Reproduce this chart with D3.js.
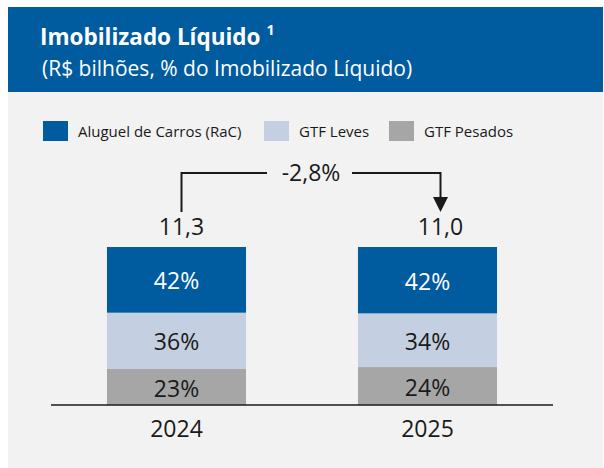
<!DOCTYPE html>
<html>
<head>
    <meta charset="utf-8">
    <title>imobilizado-liquido</title>
    <style>
        body { margin: 0; background: #fff; }
        text { font-family: "Open Sans", sans-serif; }
    </style>
</head>
<body>
    <script src="https://cdn.jsdelivr.net/npm/d3@7/dist/d3.min.js"></script>
    <script>
        // chart data
        var years = ["2024", "2025"];
        var totals = ["11,3", "11,0"];
        var series = ["Aluguel de Carros (RaC)", "GTF Leves", "GTF Pesados"];
        var rac = [42, 42];
        var gtfLeves = [36, 34];
        var gtfPesados = [23, 24];
        var changeLabel = "-2,8%";

        var colors = ["#005b9f", "#c4cfe1", "#a6a6a6"];

        var W = 604, H = 468;
        var svg = d3.select("body").append("svg")
            .attr("width", W)
            .attr("height", H);

        // panel + header
        svg.append("rect").attr("x", 8).attr("y", 7).attr("width", 595).attr("height", H - 7).attr("fill", "#f2f2f2");
        svg.append("rect").attr("x", 8).attr("y", 7).attr("width", 595).attr("height", 85).attr("fill", "#005b9f");

        var title = svg.append("text").attr("x", 40).attr("y", 45)
            .attr("fill", "#fff").attr("font-size", 22.5).attr("font-weight", "bold");
        title.append("tspan").text("Imobilizado Líquido ");
        title.append("tspan").attr("font-size", 14).attr("dy", -10).text("1");
        svg.append("text").attr("x", 42).attr("y", 76)
            .attr("fill", "#fff").attr("font-size", 21)
            .text("(R$ bilhões, % do Imobilizado Líquido)");

        // legend
        var legendX = [43, 264, 389];
        var leg = svg.selectAll(".leg").data(series).enter().append("g")
            .attr("class", "leg")
            .attr("transform", function (d, i) { return "translate(" + legendX[i] + ",121)"; });
        leg.append("rect").attr("width", 25).attr("height", 20)
            .attr("fill", function (d, i) { return colors[i]; });
        leg.append("text").attr("x", 35).attr("y", 16)
            .attr("font-size", 15).attr("fill", "#1a1a1a")
            .text(function (d) { return d; });

        // scales
        var baseY = 405, topY = 247;
        var x = d3.scaleBand().domain(years).range([51, 553]).paddingInner(0.446).paddingOuter(0.223);
        var y = d3.scaleLinear().domain([0, 1]).range([baseY, topY]);

        var rows = years.map(function (yr, i) {
            var vals = [rac[i], gtfLeves[i], gtfPesados[i]];
            var sum = d3.sum(vals);
            return { year: yr, a: vals[0] / sum, b: vals[1] / sum, c: vals[2] / sum, raw: vals };
        });
        var stack = d3.stack().keys(["c", "b", "a"])(rows);
        var keyIdx = { a: 0, b: 1, c: 2 };

        var layers = svg.selectAll(".layer").data(stack).enter().append("g")
            .attr("fill", function (s) { return colors[keyIdx[s.key]]; });
        layers.selectAll("rect").data(function (s) { return s; }).enter().append("rect")
            .attr("x", function (d) { return x(d.data.year); })
            .attr("width", x.bandwidth())
            .attr("y", function (d) { return y(d[1]); })
            .attr("height", function (d) { return y(d[0]) - y(d[1]); });

        layers.each(function (s) {
            var k = keyIdx[s.key];
            d3.select(this).selectAll("text").data(s).enter().append("text")
                .attr("x", function (d) { return x(d.data.year) + x.bandwidth() / 2; })
                .attr("y", function (d) { return (y(d[0]) + y(d[1])) / 2 + 9.5; })
                .attr("text-anchor", "middle")
                .attr("font-size", 23)
                .attr("fill", k === 0 ? "#fff" : "#1a1a1a")
                .text(function (d) { return d.data.raw[k] + "%"; });
        });

        // axis
        var xAxis = svg.append("g").attr("transform", "translate(0," + baseY + ")")
            .call(d3.axisBottom(x).tickSize(0).tickPadding(16));
        xAxis.select(".domain").attr("stroke", "#1a1a1a").attr("stroke-width", 1.5).attr("d", "M51,0H553");
        xAxis.selectAll("text").attr("font-size", 23).attr("fill", "#1a1a1a")
            .style("font-family", "'Open Sans', sans-serif");

        // totals
        var totalShift = [5, 13];
        var tx = function (i) { return x(years[i]) + x.bandwidth() / 2 + totalShift[i]; };
        svg.selectAll(".tot").data(totals).enter().append("text")
            .attr("class", "tot")
            .attr("x", function (d, i) { return tx(i); })
            .attr("y", 235)
            .attr("text-anchor", "middle")
            .attr("font-size", 23).attr("fill", "#1a1a1a")
            .text(function (d) { return d; });

        // change bracket
        var x0 = tx(0), x1 = tx(1), by = 173, midX = (x0 + x1) / 2;
        var g = svg.append("g").attr("stroke", "#1a1a1a").attr("stroke-width", 2).attr("fill", "none");
        g.append("path").attr("d", "M" + x0 + ",212V" + by + "H" + (midX - 44));
        g.append("path").attr("d", "M" + (midX + 41) + "," + by + "H" + x1 + "V198");
        svg.append("path").attr("d", "M" + (x1 - 7.5) + ",197L" + (x1 + 7.5) + ",197L" + x1 + ",212Z").attr("fill", "#1a1a1a");
        svg.append("text").attr("x", midX).attr("y", by + 8)
            .attr("text-anchor", "middle").attr("font-size", 23).attr("fill", "#1a1a1a")
            .text(changeLabel);
    </script>
</body>
</html>
